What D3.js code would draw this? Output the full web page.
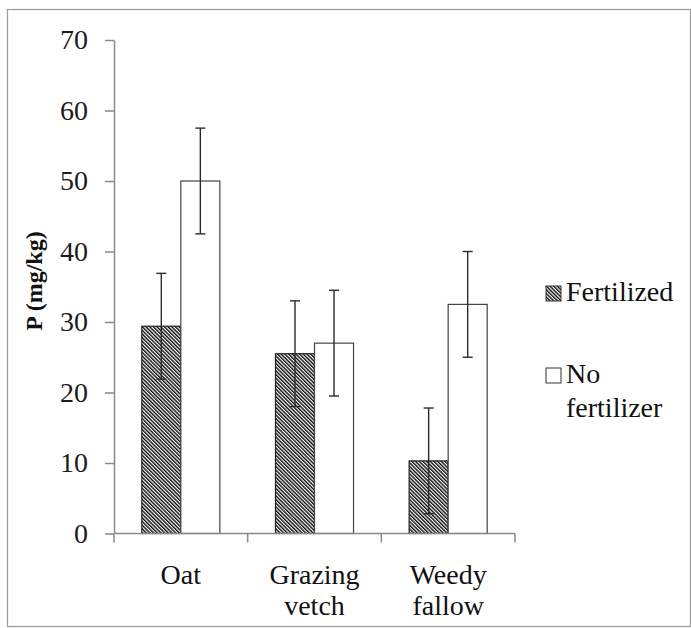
<!DOCTYPE html>
<html>
<head>
<meta charset="utf-8">
<script src="https://cdn.jsdelivr.net/npm/d3@7"></script>
<style>
  body { margin: 0; background: #fff; }
  svg { display: block; }
  svg text { font-family: 'Liberation Serif', 'Tinos', 'DejaVu Serif', 'Noto Serif', serif; }
</style>
</head>
<body>
<div id="chart"></div>
<script>
const categories   = ['Oat', 'Grazing vetch', 'Weedy fallow'];
const seriesNames  = ['Fertilized', 'No fertilizer'];
const fertilized   = [29.4, 25.5, 10.3];
const noFertilizer = [50, 27, 32.5];
const fertErr      = [7.5, 7.5, 7.5];
const noFertErr    = [7.5, 7.5, 7.5];
const yTicks       = [0, 10, 20, 30, 40, 50, 60, 70];

const W = 691, H = 628;
const INK = '#111';
const AXIS = '#8a8a8a';
const FS = 28;

const svg = d3.select('#chart').append('svg')
  .attr('width', W).attr('height', H);

// hatch pattern for the fertilized bars
const defs = svg.append('defs');
const pat = defs.append('pattern')
  .attr('id', 'hatch')
  .attr('patternUnits', 'userSpaceOnUse')
  .attr('width', 2.6).attr('height', 2.6)
  .attr('patternTransform', 'rotate(-45)');
pat.append('rect').attr('width', 2.6).attr('height', 2.6).attr('fill', '#fff');
pat.append('line')
  .attr('x1', 0.7).attr('x2', 0.7).attr('y1', 0).attr('y2', 2.6)
  .attr('stroke', '#0a0a0a').attr('stroke-width', 1.4);

// outer frame of the picture
svg.append('rect')
  .attr('x', 7.5).attr('y', 9.5)
  .attr('width', 683).attr('height', 617)
  .attr('fill', 'none').attr('stroke', '#9a9a9a').attr('stroke-width', 1.2);

const y = d3.scaleLinear().domain([0, 70]).range([533.5, 40]);

const x = d3.scaleBand()
  .domain(categories)
  .range([114, 515])
  .paddingInner(0.416)
  .paddingOuter(0.208);

const xs = d3.scaleBand()
  .domain(seriesNames)
  .range([0, x.bandwidth()]);

const rows = categories.map((c, i) => ({
  cat: c,
  bars: [
    { s: seriesNames[0], v: fertilized[i], e: fertErr[i] },
    { s: seriesNames[1], v: noFertilizer[i], e: noFertErr[i] }
  ]
}));

// Y axis
const yAxis = svg.append('g')
  .attr('transform', 'translate(114,0)')
  .call(d3.axisLeft(y).tickValues(yTicks).tickSize(9).tickSizeOuter(0).tickPadding(17));
yAxis.attr('font-family', null);
yAxis.select('.domain').attr('stroke', AXIS).attr('stroke-width', 1.5);
yAxis.selectAll('.tick line').attr('stroke', AXIS).attr('stroke-width', 1.5);
yAxis.selectAll('.tick text')
  .attr('font-size', FS).attr('fill', '#1c1c1c');

// Bars
const grp = svg.selectAll('.grp')
  .data(rows)
  .join('g')
  .attr('class', 'grp')
  .attr('transform', d => `translate(${x(d.cat)},0)`);

grp.selectAll('rect')
  .data(d => d.bars)
  .join('rect')
  .attr('x', d => xs(d.s))
  .attr('y', d => y(d.v))
  .attr('width', xs.bandwidth())
  .attr('height', d => y(0) - y(d.v))
  .attr('fill', d => d.s === seriesNames[0] ? 'url(#hatch)' : '#fff')
  .attr('stroke', d => d.s === seriesNames[0] ? '#222' : '#444')
  .attr('stroke-width', 1.2);

// Error bars
const eb = grp.selectAll('.err')
  .data(d => d.bars)
  .join('g')
  .attr('class', 'err')
  .attr('stroke', '#2a2a2a')
  .attr('stroke-width', 1.4);
eb.append('line')
  .attr('x1', d => xs(d.s) + xs.bandwidth() / 2)
  .attr('x2', d => xs(d.s) + xs.bandwidth() / 2)
  .attr('y1', d => y(d.v + d.e))
  .attr('y2', d => y(d.v - d.e));
[1, -1].forEach(sign => {
  eb.append('line')
    .attr('x1', d => xs(d.s) + xs.bandwidth() / 2 - 5)
    .attr('x2', d => xs(d.s) + xs.bandwidth() / 2 + 5)
    .attr('y1', d => y(d.v + sign * d.e))
    .attr('y2', d => y(d.v + sign * d.e));
});

// X axis
const x0 = x.range()[0], x1 = x.range()[1];
svg.append('line')
  .attr('x1', x0).attr('x2', x1)
  .attr('y1', y(0)).attr('y2', y(0))
  .attr('stroke', AXIS).attr('stroke-width', 1.5);
const bounds = d3.range(categories.length + 1).map(i => x0 + i * x.step());
svg.selectAll('.xtick')
  .data(bounds)
  .join('line')
  .attr('class', 'xtick')
  .attr('x1', d => d).attr('x2', d => d)
  .attr('y1', y(0)).attr('y2', y(0) + 9)
  .attr('stroke', AXIS).attr('stroke-width', 1.5);

svg.selectAll('.xlab')
  .data(categories)
  .join('text')
  .attr('class', 'xlab')
  .attr('text-anchor', 'middle')
  .attr('font-size', FS)
  .attr('fill', INK)
  .each(function(d) {
    const t = d3.select(this);
    d.split(' ').forEach((w, i) => {
      t.append('tspan')
        .attr('x', x(d) + x.bandwidth() / 2)
        .attr('y', 584 + i * 31)
        .text(w);
    });
  });

// Y title
svg.append('text')
  .attr('transform', 'translate(42,281) rotate(-90)')
  .attr('text-anchor', 'middle')
  .attr('font-size', 24)
  .attr('font-weight', 'bold')
  .attr('fill', INK)
  .text('P (mg/kg)');

// Legend
const legend = svg.append('g').attr('transform', 'translate(546,0)');
const legRows = [
  { s: seriesNames[0], lines: ['Fertilized'], base: 301 },
  { s: seriesNames[1], lines: ['No', 'fertilizer'], base: 383 }
];
const li = legend.selectAll('.leg')
  .data(legRows)
  .join('g')
  .attr('class', 'leg');
li.append('rect')
  .attr('x', 0)
  .attr('y', d => d.base - 15)
  .attr('width', 15).attr('height', 15)
  .attr('fill', d => d.s === seriesNames[0] ? 'url(#hatch)' : '#fff')
  .attr('stroke', '#333').attr('stroke-width', 1);
li.append('text')
  .attr('font-size', FS)
  .attr('fill', INK)
  .each(function(d) {
    const t = d3.select(this);
    d.lines.forEach((w, i) => {
      t.append('tspan').attr('x', 20).attr('y', d.base + i * 34).text(w);
    });
  });
</script>
</body>
</html>
